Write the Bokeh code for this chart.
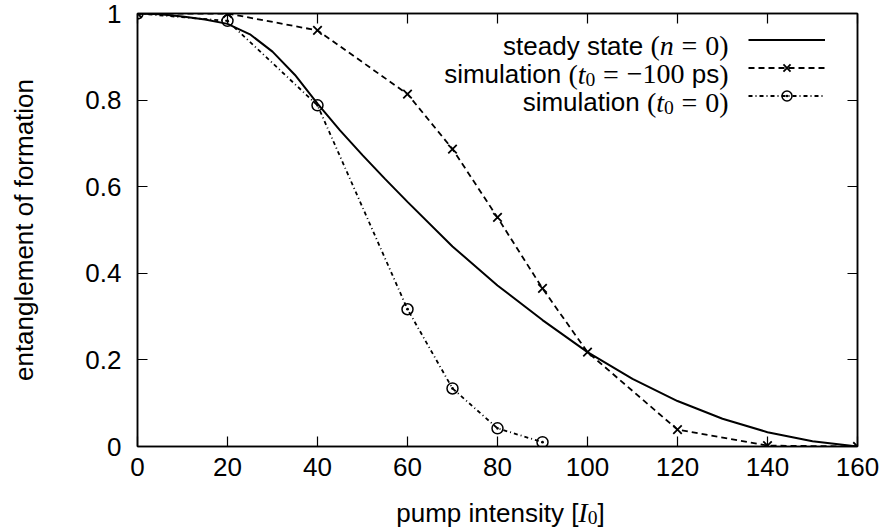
import math
from bokeh.plotting import figure
from bokeh.layouts import column
from bokeh.models import (Range1d, LinearAxis, FixedTicker, CustomJSTickFormatter,
                          Label, Legend, LegendItem)
from bokeh.core.properties import value
from bokeh.embed import file_html
from bokeh.resources import INLINE

# ---------------- data ----------------
intensity_ss = [0, 5, 10, 15, 20, 25, 30, 35, 40, 45, 50, 55, 60, 70, 80, 90,
                100, 110, 120, 130, 140, 150, 160]
eof_ss = [1.0, 0.998, 0.993, 0.986, 0.976, 0.952, 0.912, 0.858, 0.792, 0.73, 0.673,
          0.618, 0.565, 0.462, 0.372, 0.292, 0.218, 0.156, 0.105, 0.064, 0.033, 0.012, 0.0]

intensity_sim_m100 = [0, 20, 40, 60, 70, 80, 90, 100, 120, 140, 160]
eof_sim_m100 = [1.0, 1.0, 0.961, 0.814, 0.687, 0.529, 0.365, 0.218, 0.039, 0.002, 0.0]

intensity_sim_0 = [0, 20, 40, 60, 70, 80, 90]
eof_sim_0 = [1.0, 0.983, 0.788, 0.317, 0.134, 0.042, 0.010]

x_ticks = [0, 20, 40, 60, 80, 100, 120, 140, 160]
y_ticks = [0, 0.2, 0.4, 0.6, 0.8, 1]

# ---------------- styling helpers ----------------
F = 26          # sans text size
FM = 28         # math (serif) text size
SANS_FONT = "Liberation Sans"
SERIF_FONT = "Liberation Serif"

SANS_W = {' ': 278, 's': 500, 't': 278, 'e': 556, 'a': 556, 'd': 556, 'y': 500, 'i': 222,
          'm': 833, 'u': 556, 'l': 222, 'o': 556, 'n': 556, 'p': 556, 'c': 500, '[': 278,
          ']': 278, 'f': 278, 'r': 333, 'g': 556}
SERIF_W = {'(': 333, ')': 333, '=': 564, '0': 500, '1': 500, '\u2212': 564, ' ': 250}
ITAL_W = {'n': 500, 't': 278, 'I': 333}
SUB_SCALE = 0.7


def token_width(text, style):
    if style == "gap_sans":
        return SANS_W[' '] / 1000 * F
    if style == "gap_math":
        return 0.278 * FM
    if style == "sans":
        return sum(SANS_W[c] for c in text) / 1000 * F
    if style == "serif":
        return sum(SERIF_W[c] for c in text) / 1000 * FM
    if style == "ital":
        return sum(ITAL_W[c] for c in text) / 1000 * FM
    if style == "sub":
        return sum(SERIF_W[c] for c in text) / 1000 * FM * SUB_SCALE
    return 0


def place_tokens(fig, tokens, ax, ay, ref_off, base_off, align="right"):
    widths = [token_width(t, s) for t, s in tokens]
    total = sum(widths)
    start = ref_off - total if align == "right" else ref_off - total / 2
    cx = start
    for (t, s), w in zip(tokens, widths):
        if not s.startswith("gap"):
            font = SANS_FONT if s == "sans" else SERIF_FONT
            if s == "sans":
                size = F
            elif s == "sub":
                size = FM * SUB_SCALE
            else:
                size = FM
            yo = base_off - 5 if s == "sub" else base_off
            fig.add_layout(Label(x=ax, y=ay, x_offset=cx, y_offset=yo, text=t,
                                 text_font=font, text_font_size=f"{size:.1f}px",
                                 text_font_style="italic" if s == "ital" else "normal",
                                 text_color="black", text_align="left",
                                 text_baseline="alphabetic"))
        cx += w


# ---------------- main figure ----------------
p = figure(width=888, height=491, output_backend="svg", toolbar_location=None,
           x_range=Range1d(0, 160), y_range=Range1d(0, 1),
           min_border_left=137, min_border_right=31, min_border_top=13, min_border_bottom=45,
           background_fill_color="white", border_fill_color="white")
p.xgrid.visible = False
p.ygrid.visible = False
p.outline_line_color = "black"
p.outline_line_width = 1.5

fmt = CustomJSTickFormatter(code="return tick.toString()")
blank_fmt = CustomJSTickFormatter(code="return ''")

top_ax = LinearAxis()
right_ax = LinearAxis()
p.add_layout(top_ax, "above")
p.add_layout(right_ax, "right")

for ax, ticks, show in [(p.below[0], x_ticks, True), (top_ax, x_ticks, False),
                        (p.left[0], y_ticks, True), (right_ax, y_ticks, False)]:
    ax.ticker = FixedTicker(ticks=ticks)
    ax.major_tick_in = 10
    ax.major_tick_out = 0
    ax.minor_tick_line_color = None
    ax.major_tick_line_color = "black"
    ax.major_tick_line_width = 1.2
    ax.axis_line_color = "black"
    ax.axis_line_width = 1.5
    if show:
        ax.formatter = fmt
        ax.major_label_text_font = SANS_FONT
        ax.major_label_text_font_size = f"{F}px"
        ax.major_label_text_color = "black"
    else:
        ax.formatter = blank_fmt
        ax.major_label_text_font_size = "1px"
        ax.major_label_standoff = 0

p.below[0].major_label_standoff = 11
p.left[0].major_label_standoff = 16
p.left[0].axis_label = "entanglement of formation"
p.left[0].axis_label_text_font = SANS_FONT
p.left[0].axis_label_text_font_size = f"{F}px"
p.left[0].axis_label_text_font_style = "normal"
p.left[0].axis_label_text_color = "black"
p.left[0].axis_label_standoff = 43

# ---------------- series ----------------
r_ss = p.line(intensity_ss, eof_ss, line_color="black", line_width=2)

r_a_line = p.line(intensity_sim_m100, eof_sim_m100, line_color="black", line_width=1.8,
                  line_dash="6 4")
r_a_pts = p.scatter(intensity_sim_m100, eof_sim_m100, marker="x", size=12,
                    line_color="black", line_width=1.8)

r_b_line = p.line(intensity_sim_0, eof_sim_0, line_color="black", line_width=1.8,
                  line_dash="4 3 1 3")
r_b_pts = p.scatter(intensity_sim_0, eof_sim_0, marker="circle_dot", size=11,
                    line_color="black", line_width=1.5, fill_color=None)

# ---------------- legend (samples) ----------------
legend = Legend(items=[
    LegendItem(label=value(""), renderers=[r_ss]),
    LegendItem(label=value(""), renderers=[r_a_line, r_a_pts]),
    LegendItem(label=value(""), renderers=[r_b_line, r_b_pts]),
], location=(611, 338), glyph_width=77, glyph_height=25, label_width=0,
    label_standoff=0, label_height=25, spacing=3, padding=0, margin=0,
    border_line_color=None, background_fill_alpha=0, label_text_font_size="1px")
p.add_layout(legend)

# legend texts (right-aligned, mixed text/math fonts)
legend_rows = [
    [("steady state", "sans"), ("", "gap_sans"), ("(", "serif"), ("n", "ital"),
     ("", "gap_math"), ("=", "serif"), ("", "gap_math"), ("0)", "serif")],
    [("simulation", "sans"), ("", "gap_sans"), ("(", "serif"), ("t", "ital"), ("0", "sub"),
     ("", "gap_math"), ("=", "serif"), ("", "gap_math"), ("\u2212100", "serif"),
     ("", "gap_sans"), ("ps", "sans"), (")", "serif")],
    [("simulation", "sans"), ("", "gap_sans"), ("(", "serif"), ("t", "ital"), ("0", "sub"),
     ("", "gap_math"), ("=", "serif"), ("", "gap_math"), ("0)", "serif")],
]
row_baselines = [-32, -60.5, -88.5]
for row, yb in zip(legend_rows, row_baselines):
    place_tokens(p, row, 160, 1, -129, yb, align="right")

# ---------------- x-axis label strip (frame aligned with main frame) ----------------
strip = figure(width=888, height=40, output_backend="svg", toolbar_location=None,
               title=None,
               x_range=Range1d(0, 160), y_range=Range1d(0, 1),
               x_axis_type=None, y_axis_type=None,
               min_border_left=0, min_border_right=0, min_border_top=0, min_border_bottom=0,
               background_fill_color="white", border_fill_color="white")
strip.outline_line_color = None
strip.xgrid.visible = False
strip.ygrid.visible = False
place_tokens(strip, [("pump intensity", "sans"), ("", "gap_sans"), ("[", "sans"),
                     ("I", "ital"), ("0", "sub"), ("]", "sans")],
             0, 1, 363, -21, align="center")

layout = column(p, strip, spacing=0)
open("out.html", "w").write(file_html(layout, INLINE))
